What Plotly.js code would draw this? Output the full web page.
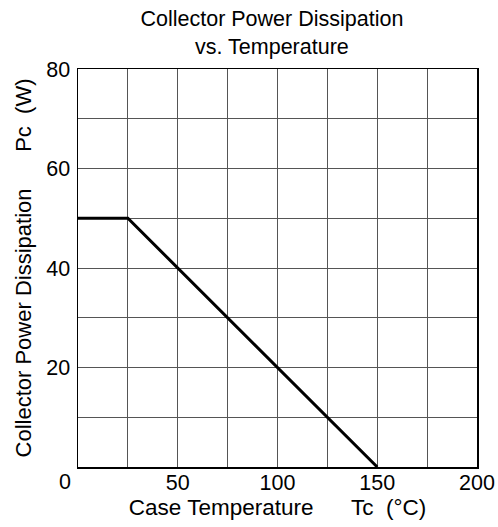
<!DOCTYPE html>
<html><head><meta charset="utf-8">
<script src="https://cdn.plot.ly/plotly-3.0.1.min.js"></script>
<style>html,body{margin:0;padding:0;background:#fff}#c{width:498px;height:527px}</style>
</head><body><div id="c"></div>
<script>
const tempC = [0, 25, 150];
const powerW = [50, 50, 0];
const xTickVals = [50, 100, 150, 200];
const xTickText = ['50', '100', '150', '200'];
const xZeroLabel = '0';
const yTickVals = [20, 40, 60, 80];
const yTickText = ['20', '40', '60', '80'];
const titleText = 'Collector Power Dissipation<br>vs. Temperature';
const NB = '\u00a0';
const xTitle = 'Case Temperature' + NB.repeat(6) + 'Tc' + NB.repeat(2) + '(°C)';
const yTitle = 'Collector Power Dissipation' + NB.repeat(6) + 'Pc' + NB.repeat(2) + '(W)';

const FAM = 'Liberation Sans, Arial, sans-serif';
const f = (s) => ({family: FAM, size: s, color: '#000'});
const grid = '#555';

Plotly.newPlot('c', [{
  x: tempC, y: powerW, mode: 'lines', type: 'scatter',
  line: {color: '#000', width: 3}, hoverinfo: 'skip'
}], {
  width: 498, height: 527,
  margin: {l: 78, r: 21, t: 69, b: 60},
  paper_bgcolor: '#fff', plot_bgcolor: '#fff',
  showlegend: false,
  font: f(21),
  title: {text: titleText, font: f(21.5), x: 0.546, xanchor: 'center', y: 0.951, yanchor: 'middle', yref: 'container'},
  xaxis: {
    range: [0, 200], tickvals: xTickVals, ticktext: xTickText,
    showgrid: true, gridcolor: grid, gridwidth: 1,
    minor: {dtick: 25, showgrid: true, gridcolor: grid, gridwidth: 1},
    showline: true, linecolor: '#000', linewidth: 1.5, mirror: true,
    zeroline: false, ticks: '', ticklabelstandoff: -4,
    tickfont: f(21.5),
    title: {text: xTitle, font: f(22.5), standoff: 0}
  },
  yaxis: {
    range: [0, 80], tickvals: yTickVals, ticktext: yTickText,
    showgrid: true, gridcolor: grid, gridwidth: 1,
    minor: {dtick: 10, showgrid: true, gridcolor: grid, gridwidth: 1},
    showline: true, linecolor: '#000', linewidth: 1.5, mirror: true,
    zeroline: false, ticks: '', ticklabelstandoff: 2,
    tickfont: f(21.5),
    title: {text: yTitle, font: f(22), standoff: 8}
  },
  annotations: [{
    x: 0, y: 0, xref: 'x', yref: 'paper', text: xZeroLabel, showarrow: false,
    xanchor: 'center', yanchor: 'top', xshift: -13, yshift: -1,
    font: f(21.5)
  }]
}, {staticPlot: true});
</script></body></html>
